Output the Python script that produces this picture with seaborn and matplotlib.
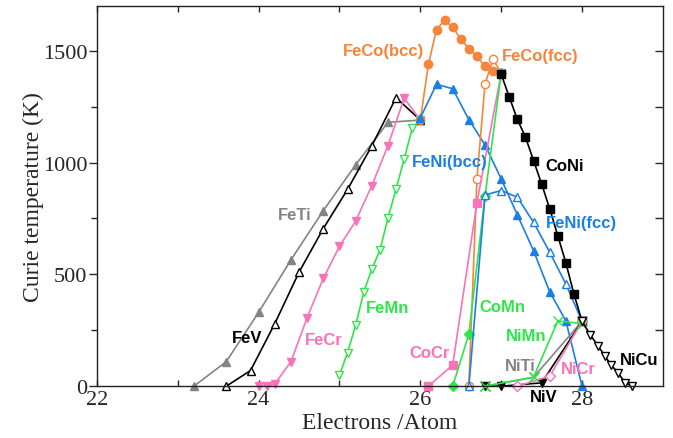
import pandas as pd
import matplotlib
matplotlib.use("Agg")
import matplotlib.pyplot as plt
import seaborn as sns

# Curie temperature vs electrons per atom
feti_x = [23.2, 23.6, 24.0, 24.4, 24.8, 25.2, 25.6, 26.0]
feti_y = [0, 110, 330, 565, 785, 990, 1180, 1190]

fev_x = [23.6, 23.9, 24.2, 24.5, 24.8, 25.1, 25.4, 25.7, 26.0]
fev_y = [0, 70, 280, 510, 705, 880, 1075, 1290, 1190]

fecr_x = [24.0, 24.1, 24.2, 24.4, 24.6, 24.8, 25.0, 25.2, 25.4, 25.6, 25.8, 26.0]
fecr_y = [0, 0, 10, 110, 307, 482, 626, 738, 897, 1076, 1288, 1190]

femn_x = [25.0, 25.1, 25.2, 25.3, 25.4, 25.5, 25.6, 25.7, 25.8, 25.9, 26.0]
femn_y = [50, 150, 273, 420, 524, 608, 753, 882, 1016, 1154, 1190]

feni_bcc_x = [26.0, 26.2, 26.4, 26.6, 26.8, 27.0, 27.2, 27.4, 27.6, 27.8, 28.0]
feni_bcc_y = [1200, 1350, 1330, 1192, 1079, 927, 766, 606, 422, 292, 0]

feco_bcc_x = [26.0, 26.1, 26.2, 26.3, 26.4, 26.5, 26.6, 26.7, 26.8, 26.9, 27.0]
feco_bcc_y = [1190, 1440, 1595, 1636, 1605, 1553, 1508, 1476, 1430, 1410, 1400]

feco_fcc_x = [26.6, 26.7, 26.8, 26.9, 27.0]
feco_fcc_y = [0, 927, 1352, 1461, 1400]

feni_fcc_x = [26.6, 26.8, 27.0, 27.2, 27.4, 27.6, 27.8, 28.0]
feni_fcc_y = [0, 855, 875, 845, 733, 599, 457, 290]

cocr_x = [26.1, 26.4, 26.7, 27.0]
cocr_y = [0, 95, 820, 1400]

comn_x = [26.4, 26.6, 26.8, 27.0]
comn_y = [0, 233, 850, 1400]

coni_x = [27.0, 27.1, 27.2, 27.3, 27.4, 27.5, 27.6, 27.7, 27.8, 27.9, 28.0]
coni_y = [1395, 1293, 1193, 1114, 1009, 905, 793, 673, 551, 412, 290]

niti_x = [26.8, 27.4, 28.0]
niti_y = [0, 40, 290]

niv_x = [26.8, 27.0, 27.5, 28.0]
niv_y = [0, 0, 15, 290]

nicr_x = [27.2, 27.6, 28.0]
nicr_y = [0, 45, 290]

nimn_x = [26.8, 27.4, 27.7, 28.0]
nimn_y = [0, 40, 292, 280]

nicu_x = [28.0, 28.1, 28.2, 28.28, 28.36, 28.45, 28.53, 28.62]
nicu_y = [290, 230, 180, 136, 95, 58, 16, 0]

ORANGE = '#f7843a'
PINK = '#f873b8'
GREEN = '#2ee64a'
BLUE = '#1b7fe3'
GRAY = '#848484'
BLACK = '#000000'

# name, x, y, color, marker, filled
series = [
    ('FeTi', feti_x, feti_y, GRAY, '^', True),
    ('FeV', fev_x, fev_y, BLACK, '^', False),
    ('FeCr', fecr_x, fecr_y, PINK, 'v', True),
    ('FeMn', femn_x, femn_y, GREEN, 'v', False),
    ('FeCo(bcc)', feco_bcc_x, feco_bcc_y, ORANGE, 'o', True),
    ('FeNi(bcc)', feni_bcc_x, feni_bcc_y, BLUE, '^', True),
    ('FeCo(fcc)', feco_fcc_x, feco_fcc_y, ORANGE, 'o', False),
    ('CoCr', cocr_x, cocr_y, PINK, 's', True),
    ('CoMn', comn_x, comn_y, GREEN, 'D', True),
    ('FeNi(fcc)', feni_fcc_x, feni_fcc_y, BLUE, '^', False),
    ('CoNi', coni_x, coni_y, BLACK, 's', True),
    ('NiTi', niti_x, niti_y, GRAY, 'x', True),
    ('NiV', niv_x, niv_y, BLACK, 'v', True),
    ('NiCr', nicr_x, nicr_y, PINK, 'D', False),
    ('NiMn', nimn_x, nimn_y, GREEN, 'x', True),
    ('NiCu', nicu_x, nicu_y, BLACK, 'v', False),
]

# label text positions (data coords) and colors
labels = [
    ('FeCo(bcc)', 25.54, 1500, ORANGE),
    ('FeCo(fcc)', 27.48, 1478, ORANGE),
    ('FeTi', 24.45, 770, GRAY),
    ('FeV', 23.86, 219, BLACK),
    ('FeCr', 24.80, 210, PINK),
    ('FeMn', 25.60, 354, GREEN),
    ('FeNi(bcc)', 26.36, 1003, BLUE),
    ('CoNi', 27.78, 985, BLACK),
    ('FeNi(fcc)', 27.99, 730, BLUE),
    ('CoMn', 27.02, 358, GREEN),
    ('NiMn', 27.31, 228, GREEN),
    ('CoCr', 26.11, 152, PINK),
    ('NiTi', 27.23, 94, GRAY),
    ('NiCr', 27.95, 81, PINK),
    ('NiV', 27.52, -45, BLACK),
    ('NiCu', 28.70, 121, BLACK),
]

rows = []
for name, xs, ys, *_ in series:
    for i, (x, y) in enumerate(zip(xs, ys)):
        rows.append({'alloy': name, 'order': i, 'electrons': x, 'tc': y})
df = pd.DataFrame(rows)

sns.set_style("ticks")
plt.rcParams['font.family'] = ['Liberation Serif', 'DejaVu Serif']

fig = plt.figure(figsize=(6.73, 4.39), dpi=100)
ax = fig.add_axes([0.144, 0.118, 0.841, 0.866])

for name, xs, ys, color, marker, filled in series:
    sub = df[df['alloy'] == name].sort_values('order')
    mfc = color if filled else 'white'
    ms = 6 if marker != 'D' else 5
    if marker == 'x':
        ms = 6.5
    sns.lineplot(data=sub, x='electrons', y='tc', sort=False, estimator=None,
                 color=color, lw=1.2, marker=marker, ms=ms, mfc=mfc,
                 mec=color, mew=1.0, clip_on=False, ax=ax, legend=False)

for text, x, y, color in labels:
    ax.text(x, y, text, color=color, fontsize=12, fontweight='bold',
            family=['Liberation Sans', 'DejaVu Sans'], ha='center', va='center')

ax.set_xlim(22, 29)
ax.set_ylim(0, 1700)
ax.set_xticks([22, 24, 26, 28])
ax.set_xticks([23, 25, 27], minor=True)
ax.set_yticks([0, 500, 1000, 1500])
ax.set_yticks([250, 750, 1250], minor=True)
ax.set_xlabel('Electrons /Atom', fontsize=17, labelpad=2)
ax.set_ylabel('Curie temperature (K)', fontsize=17, labelpad=-1)

ax.tick_params(axis='y', which='major', direction='out', length=6, width=1,
               labelsize=16, left=True, right=False, pad=1)
ax.tick_params(axis='y', which='minor', direction='out', length=4, width=1,
               left=True, right=False)
ax.tick_params(axis='x', which='both', direction='in', length=4.5, width=1,
               labelsize=16, bottom=True, top=True, pad=3)

sec = ax.secondary_yaxis('right')
sec.set_yticks([250, 500, 750, 1000, 1250, 1500])
sec.tick_params(direction='in', length=6, width=1, labelright=False)

for sp in ax.spines.values():
    sp.set_linewidth(1.0)
    sp.set_color('#222222')
    sp.set_visible(True)
sec.spines['right'].set_visible(False)

fig.savefig('out.png', dpi=100)
